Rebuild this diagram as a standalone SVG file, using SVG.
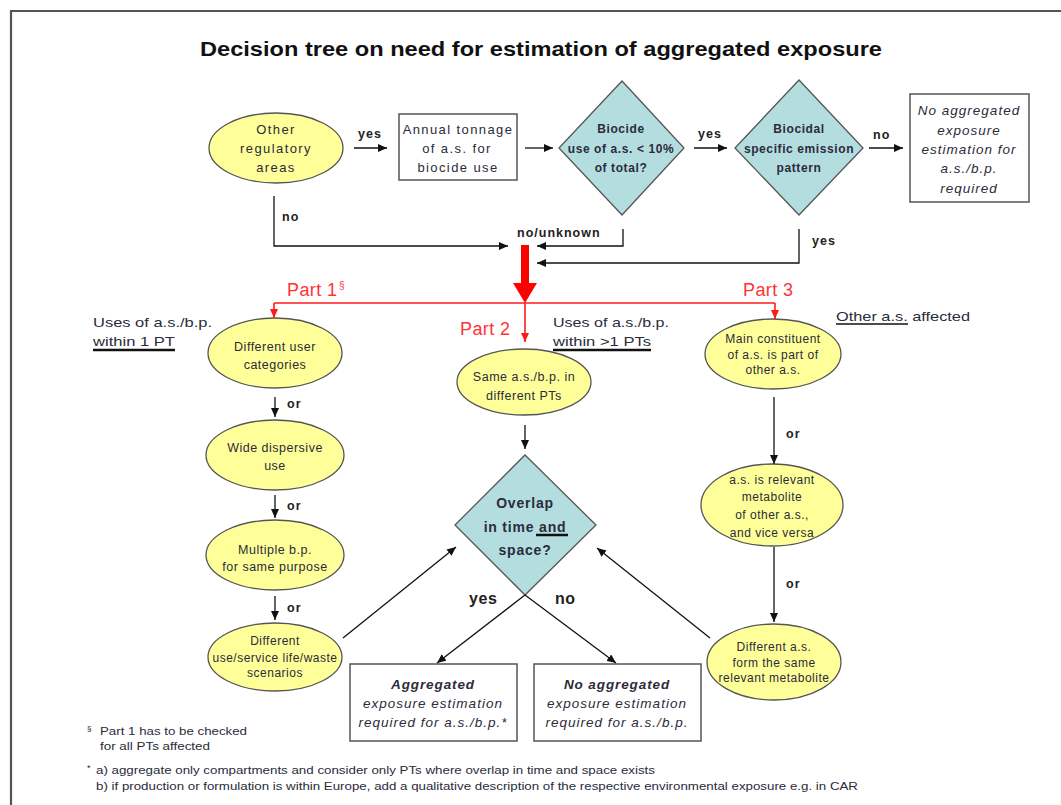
<svg xmlns="http://www.w3.org/2000/svg" width="1061" height="805" viewBox="0 0 1061 805">
<defs>
<marker id="ah" markerUnits="userSpaceOnUse" markerWidth="9" markerHeight="8" refX="9" refY="4" orient="auto"><path d="M0,0 L9,4 L0,8 z" fill="#111"/></marker>
<marker id="ahr" markerUnits="userSpaceOnUse" markerWidth="9" markerHeight="8" refX="9" refY="4" orient="auto"><path d="M0,0 L9,4 L0,8 z" fill="#ff1a1a"/></marker>
<style>
text{font-family:"Liberation Sans",Arial,sans-serif;fill:#2b2b3b}
.t{font-size:20.5px;font-weight:bold;fill:#111}
.n{font-size:13px;letter-spacing:1.4px;text-anchor:middle}
.e{font-size:12.5px;letter-spacing:0.5px;text-anchor:middle}
.s{font-size:12px;letter-spacing:0.5px;text-anchor:middle}
.d{font-size:12px;font-weight:bold;letter-spacing:0.6px;text-anchor:middle}
.dl{font-size:14px;font-weight:bold;letter-spacing:0.8px;text-anchor:middle}
.i{font-size:13.5px;font-style:italic;letter-spacing:1px;text-anchor:middle}
.ib{font-size:13.5px;font-style:italic;font-weight:bold;letter-spacing:0.9px;text-anchor:middle}
.lb{font-size:12.5px;font-weight:bold;letter-spacing:1px;fill:#222}
.lbb{font-size:16px;font-weight:bold;letter-spacing:0.6px;fill:#222}
.u{font-size:13.5px}
.p{font-size:18px;fill:#ff3333;letter-spacing:0.4px}
.f{font-size:11.5px}
.ell{fill:#ffff99;stroke:#555;stroke-width:1.3}
.dia{fill:#b4dde0;stroke:#555;stroke-width:1.3}
.box{fill:#fff;stroke:#555;stroke-width:1.5}
.c{fill:none;stroke:#111;stroke-width:1.3;marker-end:url(#ah)}
.r{fill:none;stroke:#ff1a1a;stroke-width:1.6}
.ul{stroke:#111;stroke-width:2.5}
</style>
</defs>
<rect width="1061" height="805" fill="#fff"/>
<path d="M11,810 V11 H1070" fill="none" stroke="#555" stroke-width="2.2"/>
<text class="t" x="541" y="56" text-anchor="middle" textLength="682" lengthAdjust="spacingAndGlyphs">Decision tree on need for estimation of aggregated exposure</text>

<g id="other-regulatory">
<ellipse class="ell" cx="276" cy="148" rx="67" ry="35"/>
<text class="n" x="276" y="134">Other</text>
<text class="n" x="276" y="153">regulatory</text>
<text class="n" x="276" y="172">areas</text>
</g>
<g id="annual-tonnage">
<rect class="box" x="399" y="114" width="118" height="66"/>
<text class="n" x="458" y="134">Annual tonnage</text>
<text class="n" x="457" y="153">of a.s. for</text>
<text class="n" x="458" y="172">biocide use</text>
</g>
<g id="biocide-use">
<polygon class="dia" points="622,81 684,148 622,215 559,148"/>
<text class="d" x="621" y="133">Biocide</text>
<text class="d" x="621" y="153">use of a.s. &lt; 10%</text>
<text class="d" x="621" y="172">of total?</text>
</g>
<g id="emission-pattern">
<polygon class="dia" points="799,80 863,148 799,215 735,148"/>
<text class="d" x="799" y="133">Biocidal</text>
<text class="d" x="799" y="153">specific emission</text>
<text class="d" x="799" y="172">pattern</text>
</g>
<g id="no-aggregated-top">
<rect class="box" x="910" y="94" width="119" height="108"/>
<text class="i" x="969" y="115">No aggregated</text>
<text class="i" x="969" y="135">exposure</text>
<text class="i" x="969" y="154">estimation for</text>
<text class="i" x="969" y="173">a.s./b.p.</text>
<text class="i" x="969" y="193">required</text>
</g>

<g id="labels">
<text class="lb" x="358" y="138">yes</text>
<text class="lb" x="698" y="138">yes</text>
<text class="lb" x="873" y="139">no</text>
<text class="lb" x="282" y="221">no</text>
<text class="lb" x="517" y="237">no/unknown</text>
<text class="lb" x="812" y="245">yes</text>
<text class="p" x="287" y="296">Part 1</text>
<text x="339" y="289" style="font-size:10px;fill:#ff3333">§</text>
<text class="p" x="460" y="335">Part 2</text>
<text class="p" x="743" y="296">Part 3</text>
<text class="u" x="93" y="327" textLength="119" lengthAdjust="spacingAndGlyphs">Uses of a.s./b.p.</text>
<text class="u" x="93" y="346" textLength="82" lengthAdjust="spacingAndGlyphs">within 1 PT</text>
<line class="ul" x1="93" y1="350" x2="175" y2="350"/>
<text class="u" x="553" y="327" textLength="116" lengthAdjust="spacingAndGlyphs">Uses of a.s./b.p.</text>
<text class="u" x="553" y="346" textLength="98" lengthAdjust="spacingAndGlyphs">within &gt;1 PTs</text>
<line class="ul" x1="553" y1="350" x2="651" y2="350"/>
<text class="u" x="836" y="321" textLength="134" lengthAdjust="spacingAndGlyphs">Other a.s. affected</text>
<line x1="836" y1="324" x2="908" y2="324" stroke="#111" stroke-width="1.6"/>
<text class="lb" x="287" y="408">or</text>
<text class="lb" x="287" y="510">or</text>
<text class="lb" x="287" y="612">or</text>
<text class="lb" x="786" y="438">or</text>
<text class="lb" x="786" y="588">or</text>
<text class="lbb" x="469" y="604">yes</text>
<text class="lbb" x="555" y="604">no</text>
</g>

<g id="different-user">
<ellipse class="ell" cx="275" cy="353" rx="67" ry="35"/>
<text class="e" x="275" y="351">Different user</text>
<text class="e" x="275" y="369">categories</text>
</g>
<g id="wide-dispersive">
<ellipse class="ell" cx="275" cy="455" rx="69" ry="35"/>
<text class="e" x="275" y="452">Wide dispersive</text>
<text class="e" x="275" y="470">use</text>
</g>
<g id="multiple-bp">
<ellipse class="ell" cx="275" cy="555" rx="69" ry="35"/>
<text class="e" x="275" y="554">Multiple b.p.</text>
<text class="e" x="275" y="571">for same purpose</text>
</g>
<g id="different-use">
<ellipse class="ell" cx="275" cy="657" rx="67" ry="34"/>
<text class="s" x="275" y="645">Different</text>
<text class="s" x="275" y="662">use/service life/waste</text>
<text class="s" x="275" y="677">scenarios</text>
</g>
<g id="same-as">
<ellipse class="ell" cx="524" cy="382" rx="67" ry="33"/>
<text class="e" x="524" y="381">Same a.s./b.p. in</text>
<text class="e" x="524" y="400">different PTs</text>
</g>
<g id="overlap">
<polygon class="dia" points="525,455 596,525 525,595 455,525"/>
<text class="dl" x="525" y="508">Overlap</text>
<text class="dl" x="525" y="532">in time and</text>
<line class="ul" x1="536" y1="535" x2="568" y2="535"/>
<text class="dl" x="525" y="555">space?</text>
</g>
<g id="main-constituent">
<ellipse class="ell" cx="773" cy="354" rx="68" ry="35"/>
<text class="s" x="773" y="343">Main constituent</text>
<text class="s" x="773" y="359">of a.s. is part of</text>
<text class="s" x="773" y="374">other a.s.</text>
</g>
<g id="relevant-metabolite">
<ellipse class="ell" cx="772" cy="505" rx="71" ry="41"/>
<text class="s" x="772" y="484">a.s. is relevant</text>
<text class="s" x="772" y="501">metabolite</text>
<text class="s" x="772" y="519">of other a.s.,</text>
<text class="s" x="772" y="537">and vice versa</text>
</g>
<g id="different-as">
<ellipse class="ell" cx="774" cy="662" rx="67" ry="38"/>
<text class="s" x="774" y="651">Different a.s.</text>
<text class="s" x="774" y="667">form the same</text>
<text class="s" x="774" y="682">relevant metabolite</text>
</g>
<g id="aggregated">
<rect class="box" x="350" y="664" width="167" height="77"/>
<text class="ib" x="433" y="689">Aggregated</text>
<text class="i" x="433" y="708">exposure estimation</text>
<text class="i" x="433" y="727">required for a.s./b.p.*</text>
</g>
<g id="no-aggregated">
<rect class="box" x="534" y="664" width="167" height="77"/>
<text class="ib" x="617" y="689">No aggregated</text>
<text class="i" x="617" y="708">exposure estimation</text>
<text class="i" x="617" y="727">required for a.s./b.p.</text>
</g>

<g id="connectors">
<path class="c" d="M354,148 H387"/>
<path class="c" d="M525,148 H553"/>
<path class="c" d="M694,148 H727"/>
<path class="c" d="M869,148 H903"/>
<path class="c" d="M274,196 V246 H508"/>
<path class="c" d="M623,229 V246 H537"/>
<path class="c" d="M799,229 V263 H537"/>
<path class="c" d="M275,397 V417"/>
<path class="c" d="M275,495 V518"/>
<path class="c" d="M275,596 V620"/>
<path class="c" d="M343,638 L456,547"/>
<path class="c" d="M525,425 V449"/>
<path class="c" d="M525,595 L437,663"/>
<path class="c" d="M525,595 L616,663"/>
<path class="c" d="M710,638 L597,548"/>
<path class="c" d="M774,397 V464"/>
<path class="c" d="M774,547 V622"/>
<path class="r" d="M274,303 H775"/>
<path class="r" d="M274,303 V318" style="marker-end:url(#ahr)"/>
<path class="r" d="M525,303 V342" style="marker-end:url(#ahr)"/>
<path class="r" d="M775,303 V319" style="marker-end:url(#ahr)"/>
<rect x="521" y="245" width="8" height="39" fill="#ff0000"/>
<polygon points="513,283 537,283 525,303" fill="#ff0000"/>
</g>

<g id="footnotes">
<text class="f" x="87" y="731" style="font-size:8px">§</text>
<text class="f" x="100" y="735" textLength="147" lengthAdjust="spacingAndGlyphs">Part 1 has to be checked</text>
<text class="f" x="100" y="750" textLength="110" lengthAdjust="spacingAndGlyphs">for all PTs affected</text>
<text class="f" x="87" y="771" style="font-size:9px">*</text>
<text class="f" x="96" y="774" textLength="559" lengthAdjust="spacingAndGlyphs">a) aggregate only compartments and consider only PTs where overlap in time and space exists</text>
<text class="f" x="96" y="790" textLength="762" lengthAdjust="spacingAndGlyphs">b) if production or formulation is within Europe, add a qualitative description of the respective environmental exposure e.g. in CAR</text>
</g>
</svg>
